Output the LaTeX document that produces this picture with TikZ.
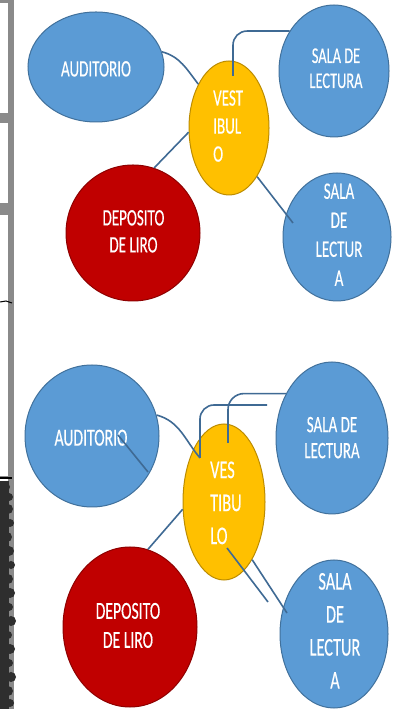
\documentclass[tikz,border=0pt]{standalone}
\usepackage{fontspec}
\setmainfont{Carlito}
\newfontfamily\lblfont[FakeBold=0.4]{Carlito}
\usepackage{graphicx}
\usetikzlibrary{shapes.geometric}
\definecolor{bfill}{HTML}{5B9BD5}
\definecolor{bline}{HTML}{41719C}
\definecolor{yfill}{HTML}{FFC000}
\definecolor{yline}{HTML}{BC8C00}
\definecolor{rfill}{HTML}{C00000}
\definecolor{rline}{HTML}{8E0000}
\definecolor{cline}{HTML}{3F6A94}
\definecolor{stripgray}{HTML}{8A8A8A}
\definecolor{treegray}{HTML}{2E2E2E}
\newcommand\mylbl[4]{{\lblfont\fontsize{#1}{#2}\selectfont\scalebox{0.64}[1]{\begin{tabular}{@{}#3@{}}#4\end{tabular}}}}
\begin{document}
\begin{tikzpicture}[x=1pt,y=1pt,
  bub/.style={ellipse, inner sep=0pt, line width=1pt},
  blueb/.style={bub, fill=bfill, draw=bline},
  yelb/.style={bub, fill=yfill, draw=yline},
  redb/.style={bub, fill=rfill, draw=rline},
  conn/.style={draw=cline, line width=1.6pt},
  txt/.style={text=white, inner sep=0pt}]
\useasboundingbox (0,0) rectangle (399,709);
\fill[white] (0,0) rectangle (399,709);
% left strip
\fill[stripgray] (0,231) rectangle (14,709);
\fill[stripgray] (8,0) rectangle (14,231);
\fill[white] (0,596) rectangle (8,706);
\fill[white] (0,506) rectangle (8,586);
\fill[white] (0,233) rectangle (8,494);
\draw[black, line width=1pt] (0,407) -- (6,408) -- (12,406);
\draw[black, line width=1.2pt] (0,231) -- (12,231);
\fill[treegray] (0,0) rectangle (9,228);
\foreach \yy/\xx/\rr in {222/6/4, 212/9/4, 200/8/5, 186/10/4, 172/7/5, 158/9/5, 144/11/4, 130/8/5, 116/10/5, 102/9/4, 88/11/5, 74/8/4, 60/10/5, 46/9/4, 32/11/5, 18/8/5, 6/10/4}
  \fill[treegray] (\xx,\yy) circle (\rr);
% top diagram
\node[blueb, minimum width=136pt, minimum height=110pt] (aud) at (96,642) {};
\node[yelb, minimum width=80pt, minimum height=134pt] (vest) at (229,581) {};
\node[blueb, minimum width=110pt, minimum height=132pt] (sala1) at (334,638) {};
\node[redb, minimum width=134pt, minimum height=136pt] (dep) at (133,476) {};
\node[blueb, minimum width=108pt, minimum height=128pt] (salaA) at (337,472) {};
\node[txt] (audt) at (96,638) {\mylbl{23.5}{27}{c}{AUDITORIO}};
\node[txt, anchor=west] (vestt) at (213,581) {\mylbl{23.5}{28}{l}{VEST\\IBUL\\O}};
\node[txt] (sala1t) at (336,638.5) {\mylbl{22.5}{25}{c}{SALA DE\\LECTURA}};
\node[txt] (dept) at (133.5,475.5) {\mylbl{23.5}{27}{c}{DEPOSITO\\DE LIRO}};
\node[txt] (salaAt) at (339,472.5) {\mylbl{23.5}{29}{c}{SALA\\DE\\LECTUR\\A}};
\coordinate (v1) at (233,633);
\coordinate (sa1in) at (293,486);
\draw[conn] (aud.13) to[out=-15, in=128] (vest.125);
\draw[conn, rounded corners=14pt] (v1) |- (sala1.138);
\draw[conn] (dep.72) -- (vest.186);
\draw[conn] (vest.-60) -- (sa1in);
% bottom diagram
\node[blueb, minimum width=134pt, minimum height=142pt] (aud2) at (92,273) {};
\node[yelb, minimum width=82pt, minimum height=156pt] (vest2) at (224,207) {};
\node[blueb, minimum width=112pt, minimum height=152pt] (sala2) at (332,271) {};
\node[redb, minimum width=134pt, minimum height=160pt] (dep2) at (130,82) {};
\node[blueb, minimum width=108pt, minimum height=148pt] (salaA2) at (334,75) {};
\node[txt] (aud2t) at (91,269) {\mylbl{24.5}{28}{c}{AUDITORIO}};
\node[txt, anchor=west] (vest2t) at (210,204.5) {\mylbl{25.5}{33}{l}{VES\\TIBU\\LO}};
\node[txt] (sala2t) at (332,269) {\mylbl{23.5}{26}{c}{SALA DE\\LECTURA}};
\node[txt] (dep2t) at (128,81.5) {\mylbl{24.5}{29}{c}{DEPOSITO\\DE LIRO}};
\node[txt] (salaA2t) at (335,76.5) {\mylbl{25.5}{33}{c}{SALA\\DE\\LECTUR\\A}};
\coordinate (v2a) at (200,251);
\coordinate (ai1) at (118,274);
\coordinate (ai2) at (148,237);
\coordinate (s2a) at (267,304);
\coordinate (v2b) at (228,266);
\coordinate (v2c) at (227,161);
\coordinate (s2c) at (268,107);
\coordinate (s2d) at (287,96);
\draw[conn] (aud2.18) to[out=-15, in=130] (v2a);
\draw[conn] (ai1) -- (ai2);
\draw[conn, rounded corners=14pt] (v2a) |- (s2a);
\draw[conn, rounded corners=16pt] (v2b) |- (sala2.136);
\draw[conn] (dep2.77) -- (vest2.190);
\draw[conn] (v2c) -- (s2c);
\draw[conn] (vest2.-64) -- (s2d);
\end{tikzpicture}
\end{document}
